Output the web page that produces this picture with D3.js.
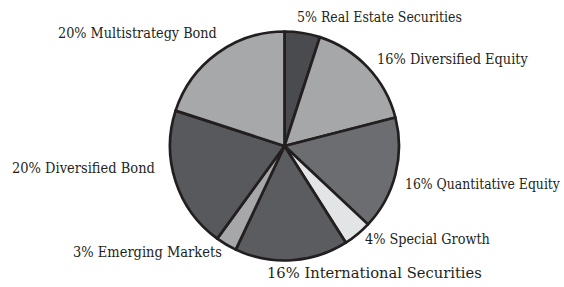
<!DOCTYPE html>
<html lang="en">
<head>
<meta charset="UTF-8">
<title>chart</title>
<style>
  body { margin: 0; background: #fff; }
</style>
</head>
<body>
<script src="https://cdn.jsdelivr.net/npm/d3@7"></script>
<script>
// data, clockwise from 12 o'clock
const names = ['Real Estate Securities', 'Diversified Equity', 'Quantitative Equity', 'Special Growth',
  'International Securities', 'Emerging Markets', 'Diversified Bond', 'Multistrategy Bond'];
const values = [5, 16, 16, 4, 16, 3, 20, 20];
const fills = ['#4a4b4e', '#a6a7a9', '#6c6d70', '#e3e4e5', '#5b5c5f', '#a6a7a9', '#58595c', '#a7a8aa'];
// label placement (left edge, baseline, width of the text)
const labelX = [297, 377, 405, 365, 267, 73, 12, 58];
const labelY = [22, 64, 189, 244, 278, 257, 173, 38];
const labelW = [165, 151, 155, 125, 215, 149, 143, 159];

const width = 564, height = 287;
const cx = 284.5, cy = 146, r = 114.5;

const svg = d3.select('body').append('svg')
  .attr('width', width)
  .attr('height', height);

const pie = d3.pie().sort(null).value(d => d);
const arc = d3.arc().innerRadius(0).outerRadius(r);

const g = svg.append('g').attr('transform', `translate(${cx},${cy})`);

g.selectAll('path')
  .data(pie(values))
  .enter()
  .append('path')
  .attr('d', arc)
  .attr('fill', (d, i) => fills[i])
  .attr('stroke', '#231f20')
  .attr('stroke-width', 2.7)
  .attr('stroke-linejoin', 'round');

// labels: squeeze the wide serif horizontally so each one fits its width
svg.selectAll('text.lbl')
  .data(names)
  .enter()
  .append('text')
  .attr('class', 'lbl')
  .attr('font-family', "'DejaVu Serif Condensed', 'DejaVu Serif', serif")
  .attr('font-size', 14.5)
  .attr('fill', '#231f20')
  .text((d, i) => values[i] + '% ' + d)
  .attr('transform', function (d, i) {
    const k = labelW[i] / this.getComputedTextLength();
    return `translate(${labelX[i]},${labelY[i]}) scale(${k},1)`;
  });
</script>
</body>
</html>
